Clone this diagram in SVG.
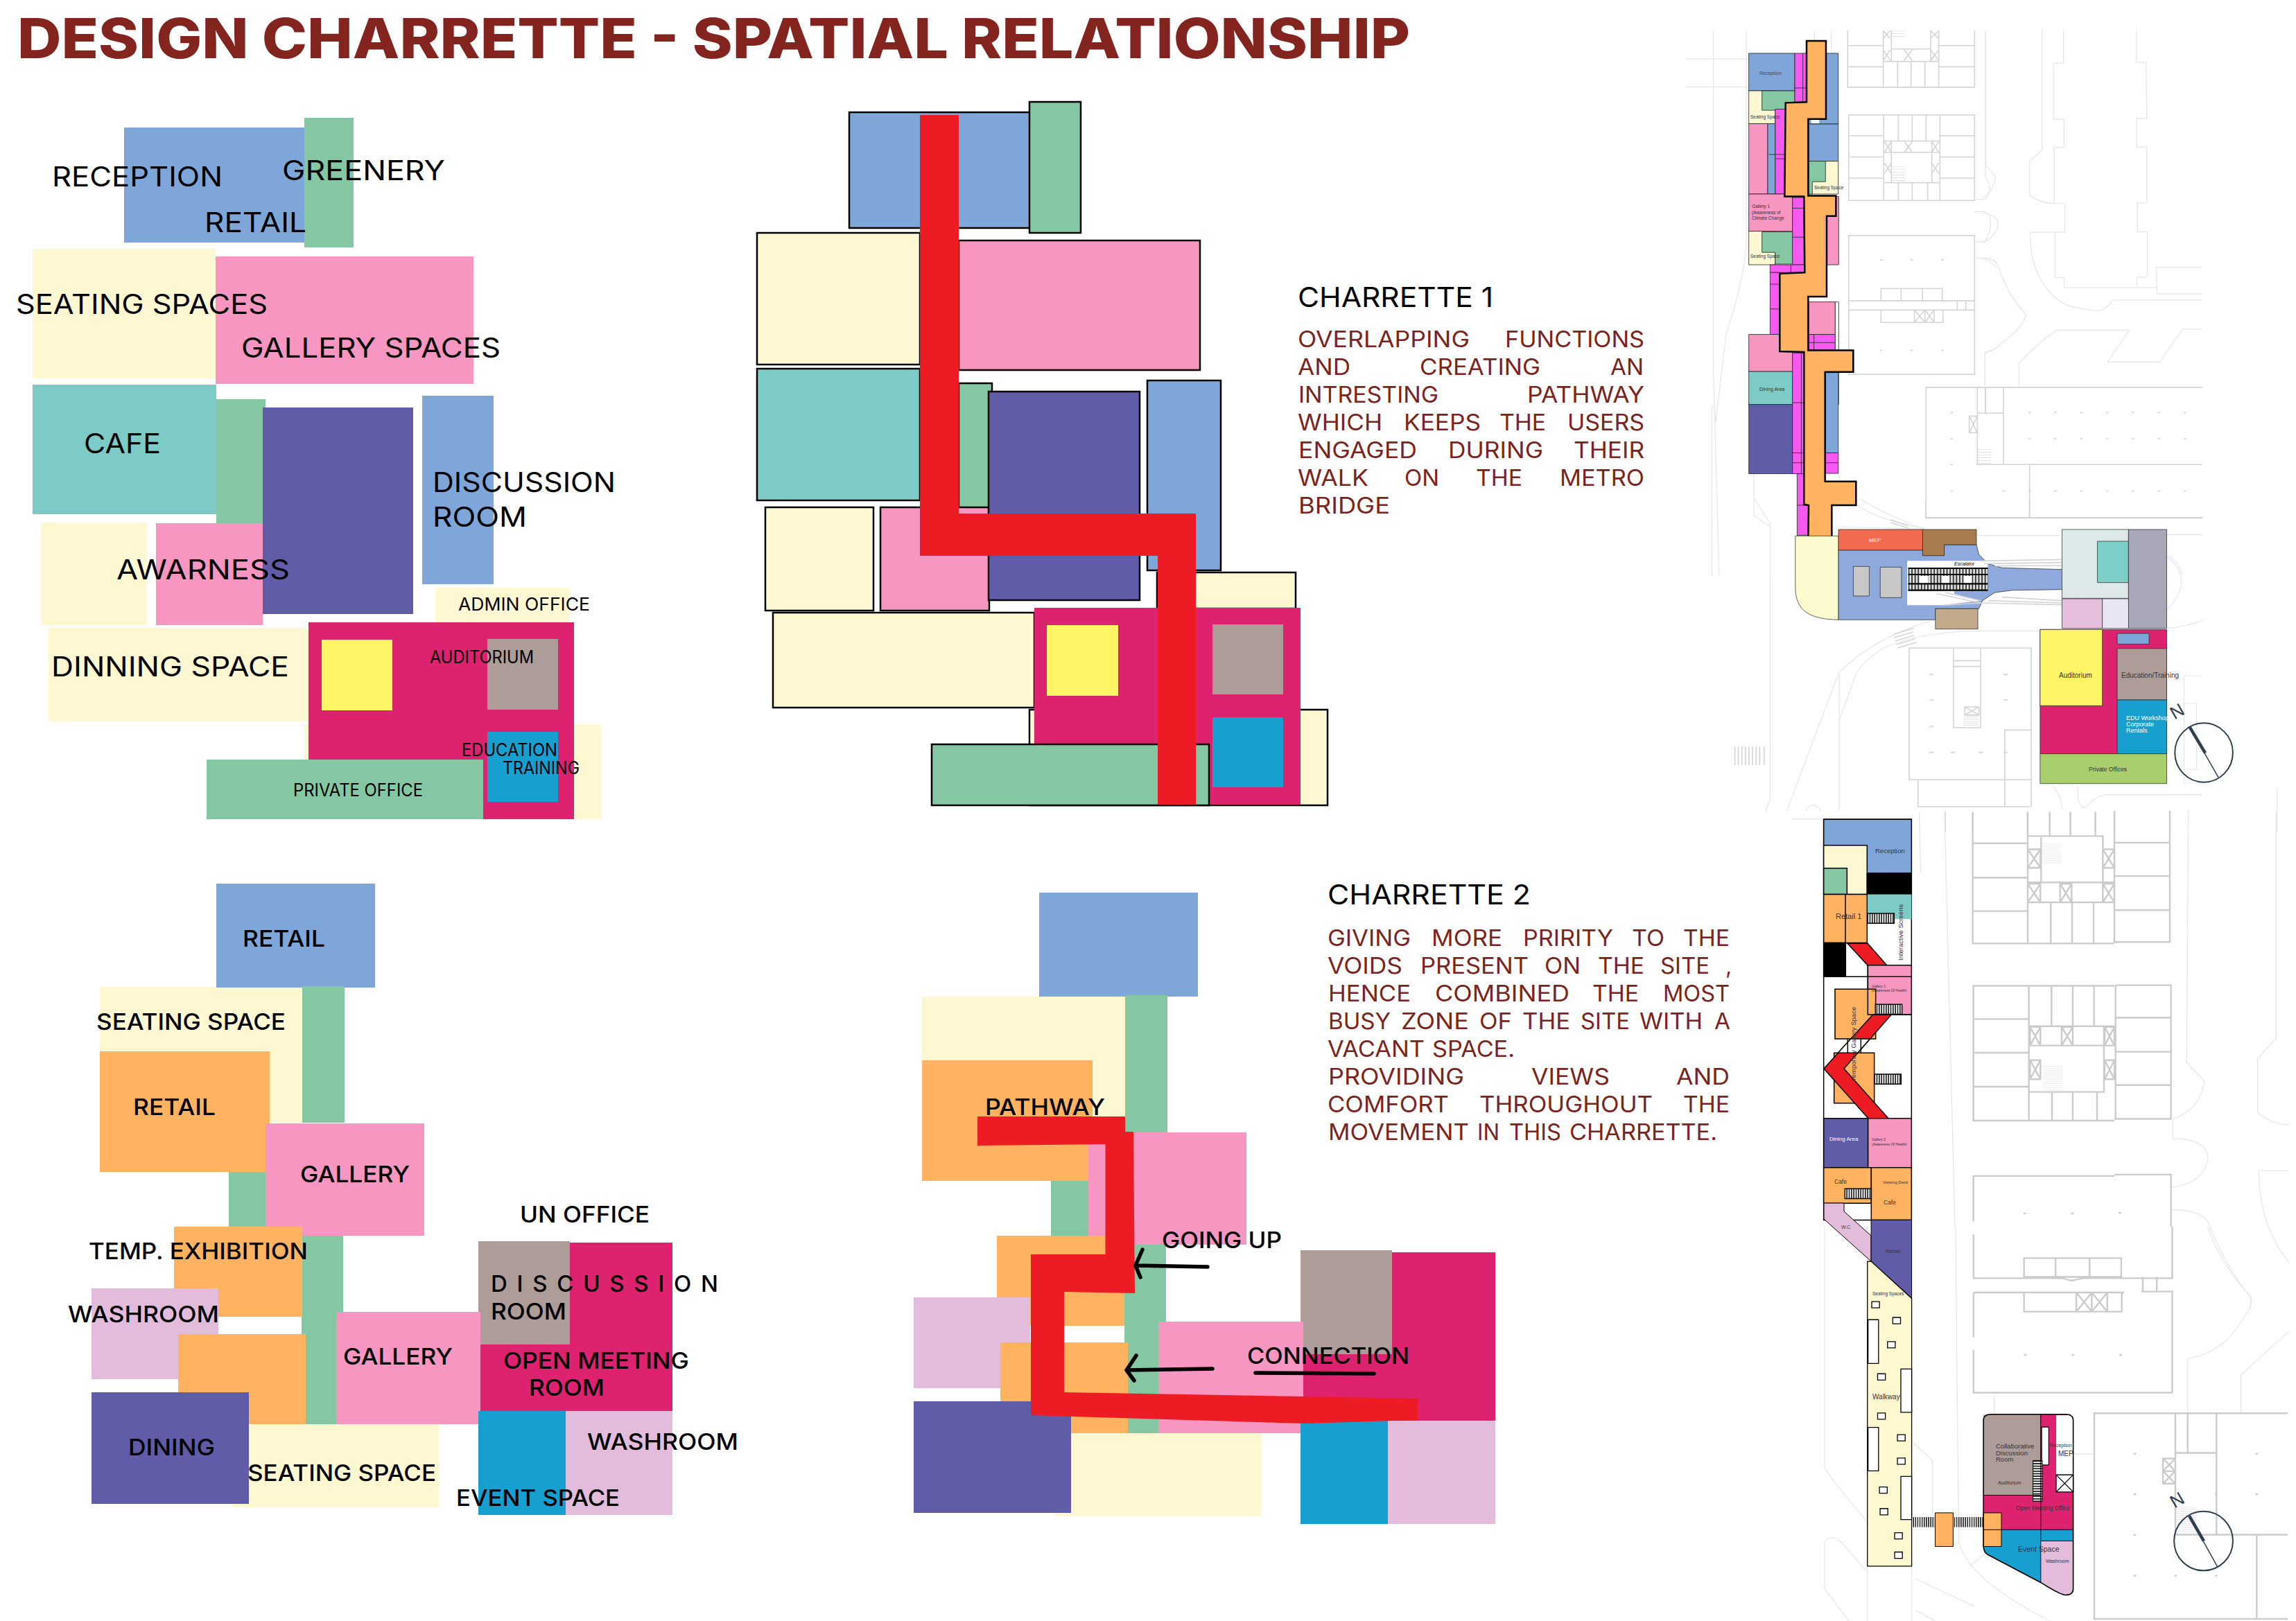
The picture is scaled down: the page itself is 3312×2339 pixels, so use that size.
<svg xmlns="http://www.w3.org/2000/svg" width="3312" height="2339" viewBox="0 0 3312 2339">
<style>
text{font-family:Inter,"Liberation Sans",sans-serif;fill:#000}
.title{font-size:80px;font-weight:800;fill:#84241f}
.l{font-size:39px}
.m{font-size:33px;font-weight:500}
.s{font-size:25px}
.h{font-size:40px}
.b{font-size:32px;fill:#7a2420}
.t{font-family:"Liberation Sans",Arial,sans-serif;font-size:9px;fill:#333}
.tw{font-family:"Liberation Sans",Arial,sans-serif;font-size:7px;fill:#fff}
.bl{fill:#7fa6d8}.gr{fill:#85c7a2}.cr{fill:#fef8d2}.pk{fill:#f796c0}.te{fill:#7ccbc6}.pu{fill:#605ca8}.mg{fill:#dd2270}.ye{fill:#fff566}.ta{fill:#ae9c98}.cy{fill:#179fd0}.or{fill:#ffb25f}.ma{fill:#e4bcdb}.rd{fill:#ed1c24}.vi{fill:#f659f0}.wh{fill:#fff}.bk{fill:#000}
.o rect{stroke:#000;stroke-width:2.5}
.plan *{vector-effect:non-scaling-stroke}
.site{fill:none;stroke:#e6e6e6;stroke-width:1.2}
.bld{fill:none;stroke:#d4d4d4;stroke-width:1.6}
#plan-2-upper .bld,#plan-2-lower .bld,#plan-2-east .bld{stroke:#cbcbcb;stroke-width:2.4}
.k{stroke:#000;stroke-width:1.5}
.arrow{fill:none;stroke:#000;stroke-width:5.5;stroke-linecap:round;stroke-linejoin:round}
</style>
<defs>
<pattern id="hz3" width="10" height="10" patternUnits="userSpaceOnUse"><rect width="10" height="10" fill="#fff"/><rect width="5" height="10" fill="#222"/></pattern>
<pattern id="hz4" width="9" height="9" patternUnits="userSpaceOnUse"><rect width="9" height="9" fill="#ddd"/><rect width="3.5" height="9" fill="#333"/></pattern>
<pattern id="hz6" width="7" height="7" patternUnits="userSpaceOnUse"><rect width="7" height="7" fill="#fff"/><rect width="3.5" height="7" fill="#222"/></pattern>
<pattern id="hh6" width="8" height="10" patternUnits="userSpaceOnUse"><rect width="8" height="10" fill="#fff"/><rect width="8" height="5" fill="#222"/></pattern>
<pattern id="gl" width="8" height="8" patternUnits="userSpaceOnUse"><path d="M0,4H8" stroke="#d4d4d4" stroke-width="1.5"/></pattern>
</defs>
<rect width="3312" height="2339" fill="#fff"/>
<text id="title" class="title" x="25" y="84" textLength="2009" lengthAdjust="spacingAndGlyphs">DESIGN CHARRETTE - SPATIAL RELATIONSHIP</text>

<g id="relationship-1">
<rect class="bl" x="179" y="184" width="262" height="166"/>
<rect class="gr" x="439" y="170" width="71" height="187"/>
<rect class="cr" x="47" y="359" width="264" height="187"/>
<rect class="pk" x="311" y="370" width="372" height="184"/>
<rect class="te" x="47" y="555" width="265" height="187"/>
<rect class="gr" x="312" y="576" width="71" height="179"/>
<rect class="cr" x="59" y="754" width="153" height="148"/>
<rect class="pk" x="225" y="755" width="154" height="147"/>
<rect class="pu" x="379" y="588" width="217" height="298"/>
<rect class="bl" x="609" y="571" width="103" height="272"/>
<rect class="cr" x="628" y="848" width="193" height="51"/>
<rect class="cr" x="70" y="906" width="375" height="135"/>
<rect class="cr" x="439" y="1045" width="428" height="137"/>
<rect class="mg" x="445" y="898" width="383" height="284"/>
<rect class="ye" x="464" y="923" width="102" height="102"/>
<rect class="ta" x="703" y="922" width="102" height="102"/>
<rect class="gr" x="298" y="1096" width="399" height="86"/>
<rect class="cy" x="703" y="1056" width="102" height="101"/>
<text class="l" x="75" y="269" textLength="246" lengthAdjust="spacingAndGlyphs">RECEPTION</text>
<text class="l" x="407" y="260" textLength="235" lengthAdjust="spacingAndGlyphs">GREENERY</text>
<text class="l" x="295" y="335" textLength="147" lengthAdjust="spacingAndGlyphs">RETAIL</text>
<text class="l" x="23" y="453" textLength="363" lengthAdjust="spacingAndGlyphs">SEATING SPACES</text>
<text class="l" x="348" y="516" textLength="374" lengthAdjust="spacingAndGlyphs">GALLERY SPACES</text>
<text class="l" x="121" y="654" textLength="111" lengthAdjust="spacingAndGlyphs">CAFE</text>
<text class="l" x="624" y="710" textLength="264" lengthAdjust="spacingAndGlyphs">DISCUSSION</text>
<text class="l" x="624" y="760" textLength="136" lengthAdjust="spacingAndGlyphs">ROOM</text>
<text class="l" x="168" y="836" textLength="250" lengthAdjust="spacingAndGlyphs">AWARNESS</text>
<text class="s" x="661" y="881" textLength="190" lengthAdjust="spacingAndGlyphs">ADMIN OFFICE</text>
<text class="l" x="74" y="976" textLength="343" lengthAdjust="spacingAndGlyphs">DINNING SPACE</text>
<text class="s" x="620" y="957" textLength="150" lengthAdjust="spacingAndGlyphs">AUDITORIUM</text>
<text class="s" x="666" y="1091" textLength="138" lengthAdjust="spacingAndGlyphs">EDUCATION</text>
<text class="s" x="725" y="1117" textLength="111" lengthAdjust="spacingAndGlyphs">TRAINING</text>
<text class="s" x="423" y="1149" textLength="187" lengthAdjust="spacingAndGlyphs">PRIVATE OFFICE</text>
</g>

<g id="charrette-1" class="o">
<rect class="bl" x="1225" y="162" width="263" height="167"/>
<rect class="gr" x="1485" y="147" width="74" height="189"/>
<rect class="cr" x="1092" y="336" width="235" height="190"/>
<rect class="pk" x="1383" y="347" width="348" height="187"/>
<rect class="te" x="1092" y="532" width="235" height="190"/>
<rect class="gr" x="1383" y="553" width="48" height="180"/>
<rect class="cr" x="1104" y="732" width="156" height="149"/>
<rect class="pk" x="1270" y="732" width="157" height="149"/>
<rect class="pu" x="1426" y="565" width="218" height="301"/>
<rect class="bl" x="1655" y="549" width="106" height="274"/>
<rect class="cr" x="1669" y="826" width="200" height="52"/>
<rect class="cr" x="1115" y="884" width="377" height="137"/>
<rect class="cr" x="1485" y="1024" width="430" height="138"/>
<rect class="mg" x="1492" y="877" width="384" height="284" style="stroke:none"/>
<rect class="ye" x="1510" y="902" width="103" height="102" style="stroke:none"/>
<rect class="ta" x="1749" y="901" width="102" height="101" style="stroke:none"/>
<rect class="gr" x="1344" y="1074" width="400" height="88"/>
<rect class="cy" x="1749" y="1035" width="102" height="101" style="stroke:none"/>
<polygon class="rd" points="1327,166 1383,166 1383,741 1725,741 1725,1161 1670,1161 1670,802 1327,802"/>
</g>
<g id="charrette-1-text">
<text class="h" x="1872" y="443" textLength="282" lengthAdjust="spacingAndGlyphs">CHARRETTE 1</text>
<text class="b" y="501"><tspan x="1872" textLength="248" lengthAdjust="spacingAndGlyphs">OVERLAPPING</tspan> <tspan x="2171" textLength="201" lengthAdjust="spacingAndGlyphs">FUNCTIONS</tspan></text>
<text class="b" y="541"><tspan x="1872" textLength="76" lengthAdjust="spacingAndGlyphs">AND</tspan> <tspan x="2048" textLength="174" lengthAdjust="spacingAndGlyphs">CREATING</tspan> <tspan x="2323" textLength="48" lengthAdjust="spacingAndGlyphs">AN</tspan></text>
<text class="b" y="581"><tspan x="1873" textLength="202" lengthAdjust="spacingAndGlyphs">INTRESTING</tspan> <tspan x="2203" textLength="169" lengthAdjust="spacingAndGlyphs">PATHWAY</tspan></text>
<text class="b" y="621"><tspan x="1872" textLength="122" lengthAdjust="spacingAndGlyphs">WHICH</tspan> <tspan x="2025" textLength="111" lengthAdjust="spacingAndGlyphs">KEEPS</tspan> <tspan x="2163" textLength="67" lengthAdjust="spacingAndGlyphs">THE</tspan> <tspan x="2261" textLength="111" lengthAdjust="spacingAndGlyphs">USERS</tspan></text>
<text class="b" y="661"><tspan x="1873" textLength="171" lengthAdjust="spacingAndGlyphs">ENGAGED</tspan> <tspan x="2089" textLength="137" lengthAdjust="spacingAndGlyphs">DURING</tspan> <tspan x="2270" textLength="102" lengthAdjust="spacingAndGlyphs">THEIR</tspan></text>
<text class="b" y="701"><tspan x="1872" textLength="102" lengthAdjust="spacingAndGlyphs">WALK</tspan> <tspan x="2026" textLength="50" lengthAdjust="spacingAndGlyphs">ON</tspan> <tspan x="2129" textLength="67" lengthAdjust="spacingAndGlyphs">THE</tspan> <tspan x="2250" textLength="122" lengthAdjust="spacingAndGlyphs">METRO</tspan></text>
<text class="b" x="1873" y="741" textLength="132" lengthAdjust="spacingAndGlyphs">BRIDGE</text>
</g>

<g id="relationship-2">
<rect class="cr" x="144" y="1424" width="292" height="196"/>
<rect class="bl" x="312" y="1275" width="229" height="150"/>
<rect class="gr" x="436" y="1423" width="61" height="197"/>
<rect class="or" x="144" y="1517" width="245" height="174"/>
<rect class="gr" x="330" y="1691" width="53" height="79"/>
<rect class="gr" x="435" y="1783" width="60" height="272"/>
<rect class="pk" x="383" y="1621" width="229" height="162"/>
<rect class="or" x="251" y="1770" width="185" height="130"/>
<rect class="ma" x="132" y="1859" width="183" height="131"/>
<rect class="or" x="257" y="1925" width="184" height="130"/>
<rect class="mg" x="693" y="1793" width="277" height="243"/>
<rect class="ta" x="690" y="1791" width="132" height="149"/>
<rect class="pk" x="485" y="1893" width="208" height="162"/>
<rect class="cr" x="335" y="2055" width="298" height="120"/>
<rect class="pu" x="132" y="2009" width="227" height="161"/>
<rect class="cy" x="690" y="2036" width="126" height="150"/>
<rect class="ma" x="816" y="2036" width="154" height="150"/>
<text class="m" x="350" y="1366" textLength="119" lengthAdjust="spacingAndGlyphs">RETAIL</text>
<text class="m" x="139" y="1486" textLength="273" lengthAdjust="spacingAndGlyphs">SEATING SPACE</text>
<text class="m" x="192" y="1609" textLength="119" lengthAdjust="spacingAndGlyphs">RETAIL</text>
<text class="m" x="433" y="1706" textLength="158" lengthAdjust="spacingAndGlyphs">GALLERY</text>
<text class="m" x="750" y="1764" textLength="187" lengthAdjust="spacingAndGlyphs">UN OFFICE</text>
<text class="m" x="128" y="1817" textLength="316" lengthAdjust="spacingAndGlyphs">TEMP. EXHIBITION</text>
<text class="m" x="708" y="1864" textLength="328" lengthAdjust="spacing">DISCUSSION</text>
<text class="m" x="708" y="1904" textLength="109" lengthAdjust="spacingAndGlyphs">ROOM</text>
<text class="m" x="98" y="1908" textLength="218" lengthAdjust="spacingAndGlyphs">WASHROOM</text>
<text class="m" x="495" y="1969" textLength="158" lengthAdjust="spacingAndGlyphs">GALLERY</text>
<text class="m" x="726" y="1975" textLength="268" lengthAdjust="spacingAndGlyphs">OPEN MEETING</text>
<text class="m" x="763" y="2014" textLength="109" lengthAdjust="spacingAndGlyphs">ROOM</text>
<text class="m" x="847" y="2092" textLength="218" lengthAdjust="spacingAndGlyphs">WASHROOM</text>
<text class="m" x="185" y="2100" textLength="125" lengthAdjust="spacingAndGlyphs">DINING</text>
<text class="m" x="357" y="2137" textLength="272" lengthAdjust="spacingAndGlyphs">SEATING SPACE</text>
<text class="m" x="658" y="2173" textLength="236" lengthAdjust="spacingAndGlyphs">EVENT SPACE</text>
</g>

<g id="charrette-2">
<rect class="cr" x="1330" y="1438" width="293" height="196"/>
<rect class="bl" x="1499" y="1288" width="229" height="150"/>
<rect class="gr" x="1623" y="1436" width="61" height="198"/>
<rect class="or" x="1330" y="1530" width="246" height="174"/>
<rect class="gr" x="1516" y="1704" width="54" height="79"/>
<rect class="gr" x="1622" y="1796" width="60" height="272"/>
<rect class="pk" x="1570" y="1634" width="228" height="162"/>
<rect class="or" x="1438" y="1783" width="184" height="130"/>
<rect class="ma" x="1318" y="1872" width="168" height="131"/>
<rect class="or" x="1443" y="1937" width="184" height="131"/>
<rect class="mg" x="1880" y="1807" width="277" height="243"/>
<rect class="ta" x="1876" y="1804" width="132" height="150"/>
<rect class="pk" x="1671" y="1907" width="209" height="161"/>
<rect class="cr" x="1522" y="2068" width="298" height="120"/>
<rect class="pu" x="1318" y="2022" width="227" height="161"/>
<rect class="cy" x="1876" y="2050" width="126" height="149"/>
<rect class="ma" x="2002" y="2050" width="155" height="149"/>
<polygon class="rd" points="1410,1611 1623,1611 1623,1633 1635,1633 1637,1866 1535,1864 1535,2009 2045,2018 2045,2049 1880,2054 1487,2042 1487,1810 1594.5,1810 1594.5,1651 1410,1653"/>
<g id="charrette-2-connectors">
<path class="arrow" d="M1742,1828 L1638,1826 M1648,1803 L1638,1826 L1645,1843"/>
<path class="arrow" d="M1749,1975 L1625,1977 M1639,1956 L1625,1977 L1636,1992"/>
<path class="arrow" d="M1811,1981 L1982,1982"/>
</g>
<text class="m" x="1421" y="1609" textLength="173" lengthAdjust="spacingAndGlyphs">PATHWAY</text>
<text class="m" x="1676" y="1801" textLength="173" lengthAdjust="spacingAndGlyphs">GOING UP</text>
<text class="m" x="1799" y="1968" textLength="234" lengthAdjust="spacingAndGlyphs">CONNECTION</text>
</g>
<g id="charrette-2-text">
<text class="h" x="1915" y="1305" textLength="293" lengthAdjust="spacingAndGlyphs">CHARRETTE 2</text>
<text class="b" y="1365"><tspan x="1915" textLength="120" lengthAdjust="spacingAndGlyphs">GIVING</tspan> <tspan x="2065" textLength="102" lengthAdjust="spacingAndGlyphs">MORE</tspan> <tspan x="2197" textLength="130" lengthAdjust="spacingAndGlyphs">PRIRITY</tspan> <tspan x="2354" textLength="47" lengthAdjust="spacingAndGlyphs">TO</tspan> <tspan x="2428" textLength="67" lengthAdjust="spacingAndGlyphs">THE</tspan></text>
<text class="b" y="1405"><tspan x="1915" textLength="108" lengthAdjust="spacingAndGlyphs">VOIDS</tspan> <tspan x="2049" textLength="156" lengthAdjust="spacingAndGlyphs">PRESENT</tspan> <tspan x="2228" textLength="52" lengthAdjust="spacingAndGlyphs">ON</tspan> <tspan x="2305" textLength="67" lengthAdjust="spacingAndGlyphs">THE</tspan> <tspan x="2395" textLength="71" lengthAdjust="spacingAndGlyphs">SITE</tspan> <tspan x="2489">,</tspan></text>
<text class="b" y="1445"><tspan x="1916" textLength="119" lengthAdjust="spacingAndGlyphs">HENCE</tspan> <tspan x="2070" textLength="194" lengthAdjust="spacingAndGlyphs">COMBINED</tspan> <tspan x="2297" textLength="67" lengthAdjust="spacingAndGlyphs">THE</tspan> <tspan x="2399" textLength="96" lengthAdjust="spacingAndGlyphs">MOST</tspan></text>
<text class="b" y="1485"><tspan x="1916" textLength="90" lengthAdjust="spacingAndGlyphs">BUSY</tspan> <tspan x="2021" textLength="98" lengthAdjust="spacingAndGlyphs">ZONE</tspan> <tspan x="2134" textLength="47" lengthAdjust="spacingAndGlyphs">OF</tspan> <tspan x="2196" textLength="69" lengthAdjust="spacingAndGlyphs">THE</tspan> <tspan x="2280" textLength="71" lengthAdjust="spacingAndGlyphs">SITE</tspan> <tspan x="2365" textLength="91" lengthAdjust="spacingAndGlyphs">WITH</tspan> <tspan x="2473" textLength="23" lengthAdjust="spacingAndGlyphs">A</tspan></text>
<text class="b" y="1525"><tspan x="1915" textLength="140" lengthAdjust="spacingAndGlyphs">VACANT</tspan> <tspan x="2066" textLength="119" lengthAdjust="spacingAndGlyphs">SPACE.</tspan></text>
<text class="b" y="1565"><tspan x="1916" textLength="196" lengthAdjust="spacingAndGlyphs">PROVIDING</tspan> <tspan x="2209" textLength="113" lengthAdjust="spacingAndGlyphs">VIEWS</tspan> <tspan x="2418" textLength="77" lengthAdjust="spacingAndGlyphs">AND</tspan></text>
<text class="b" y="1605"><tspan x="1915" textLength="175" lengthAdjust="spacingAndGlyphs">COMFORT</tspan> <tspan x="2134" textLength="250" lengthAdjust="spacingAndGlyphs">THROUGHOUT</tspan> <tspan x="2428" textLength="67" lengthAdjust="spacingAndGlyphs">THE</tspan></text>
<text class="b" y="1645"><tspan x="1916" textLength="203" lengthAdjust="spacingAndGlyphs">MOVEMENT</tspan> <tspan x="2131" textLength="32" lengthAdjust="spacingAndGlyphs">IN</tspan> <tspan x="2177" textLength="75" lengthAdjust="spacingAndGlyphs">THIS</tspan> <tspan x="2264" textLength="213" lengthAdjust="spacingAndGlyphs">CHARRETTE.</tspan></text>
</g>

<!-- plan 1, east site context -->
<g id="plan-1-east" class="plan" transform="translate(2860 30) scale(.33333 .5102)">
<path class="site" d="M13,28V408L55,440Q50,480 0,500M0,543Q65,550 67,575Q60,610 0,627M0,670Q50,672 65,690Q110,780 187,830Q185,860 85,910Q50,935 10,938V1037M257,25V365L203,398V492Q240,515 312,517M350,25V120H307V278H352V358H310V517H356V598H205Q205,740 350,800Q430,820 515,820L568,790H950M313,598V726H352V755H755M665,25V118H707L710,276H667V357H710V515H670V597H713V725H667V752M950,697H752L755,772H950M950,872H865L765,965H540L635,875H330Q290,880 157,968V1037M800,1453H950M800,1512Q850,1530 865,1568"/>
<path class="bld" d="M60,1037H950M90,1037V1255M13,1037V1110M60,1110H90M60,1255H950M60,1405H950M203,1255V1405M197,1108h12M309,1108h12M421,1108h12M533,1108h12M645,1108h12M757,1108h12M869,1108h12M197,1182h12M309,1182h12M421,1182h12M533,1182h12M645,1182h12M757,1182h12M869,1182h12M84,1330h12M197,1330h12M309,1330h12M421,1330h12M533,1330h12M645,1330h12M757,1330h12M869,1330h12"/>
</g>

<!-- plan 1, upper part -->
<g id="plan-1-upper" class="plan" transform="translate(2430 30) scale(.33333 .5102)">
<path class="site" d="M125,28V1000L150,1568M267,28V640Q250,750 180,885L135,1135L130,1090H118V1568M5,108H278M5,187H278M1302,28V440Q1340,480 1300,505H1260M1255,540H1300Q1350,560 1300,625H1255M1255,670Q1320,670 1350,700M1300,940L1350,925M300,1281V1400L370,1430V1568M562,28V57M635,28V92M665,1280Q680,1340 770,1380Q880,1420 1040,1435M1265,1455H1350"/>
<path class="bld" d="M706,28V188H1255V28M706,70H860M1100,70H1255M706,130H860M1100,130H1255M860,28V188M895,28V115M1100,28V188M1065,28V115M895,80H1065M860,115H1100M922,115V188M980,115V188M1040,115V188M860,28L890,50M890,28L860,50M1065,28L1100,50M1100,28L1065,50M860,82L890,112M890,82L860,112M950,82L985,112M985,82L950,112M1065,82L1100,112M1100,82L1065,112"/>
<rect x="893" y="28" width="60" height="17" fill="url(#gl)"/>
<path class="bld" d="M710,266H1255V508H710ZM862,266V508M1105,266V508M710,325H862M710,385H862M710,445H862M1105,325H1255M1105,385H1255M1105,445H1255M862,340H1105M895,340V458M1070,340V458M862,458H1105M862,372H1105M925,266V340M985,266V340M1045,266V340M925,458V508M985,458V508M1052,458V508M865,342L895,372M895,342L865,372M952,342L985,372M985,342L952,372M1070,342L1100,372M1100,342L1070,372M865,402L895,432M895,402L865,432M1070,402L1100,432M1100,402L1070,432"/>
<rect x="895" y="408" width="60" height="47" fill="url(#gl)"/>
<path class="bld" d="M710,607H1255V1000H710ZM710,792H1255M710,818H1255M850,757H1115V792H850ZM850,818H1118V853H850ZM937,757V792M1030,757V792M995,818V853M1040,818V853M1080,818V853M995,818L1040,853M1040,818L995,853M1040,818L1080,853M1080,818L1040,853M1180,792V818M1217,792V818M845,676h12M977,676h12M1110,676h12M845,932h12M977,932h12M1110,932h12"/>
<path class="bld" d="M1350,1037H1045V1405H1350M1267,1037V1255H1350M1302,1037V1110M1267,1110H1350M1232,1118H1267V1165H1232ZM1232,1118L1267,1165M1267,1118L1232,1165M1150,1108h12M1150,1182h12M1150,1255h12M1150,1330h12"/>
<rect x="1267" y="1205" width="60" height="50" fill="url(#gl)"/>
<g stroke="#222" stroke-width=".8">
<rect class="bl" x="278" y="92" width="199" height="106"/>
<rect class="cr" x="278" y="198" width="114" height="93"/>
<rect class="gr" x="335" y="198" width="142" height="55"/>
<rect class="vi" x="477" y="92" width="50" height="138"/>
<path d="M512,92V230M477,190H527" fill="none"/>
<rect class="vi" x="392" y="250" width="45" height="240"/>
<path d="M392,378H437M392,390H437" fill="none"/>
<rect class="bl" x="537" y="92" width="128" height="200"/>
<rect class="wh" x="548" y="280" width="35" height="10" stroke="none"/>
<rect class="bl" x="537" y="292" width="128" height="105"/>
<rect class="cr" x="537" y="397" width="128" height="93"/>
<polygon class="gr" points="537,397 610,397 610,455 553,455 553,490 537,490"/>
<rect class="pk" x="278" y="291" width="82" height="199"/>
<rect class="bl" x="360" y="291" width="32" height="199"/>
<path d="M365,378H392" fill="none"/>
<rect class="pk" x="278" y="490" width="189" height="105"/>
<rect class="cr" x="278" y="595" width="114" height="95"/>
<polygon class="gr" points="335,597 467,597 467,688 392,688 392,655 335,655"/>
<rect class="vi" x="467" y="500" width="50" height="190"/>
<path d="M467,530H517M467,612H517" fill="none"/>
<rect class="pk" x="615" y="497" width="52" height="193"/>
<rect class="vi" x="370" y="690" width="150" height="22"/>
<rect class="vi" x="370" y="712" width="42" height="175"/>
<path d="M370,745H412M370,815H412M460,690V712" fill="none"/>
<rect class="pk" x="537" y="795" width="115" height="92"/>
<rect class="vi" x="537" y="887" width="115" height="45"/>
<path d="M560,887V932M537,910H652" fill="none"/>
<path d="M652,795H667V1085H652Z" fill="#fff"/>
<rect class="pk" x="278" y="887" width="189" height="105"/>
<rect class="te" x="278" y="992" width="189" height="93"/>
<rect class="pu" x="278" y="1085" width="189" height="196"/>
<rect class="vi" x="467" y="940" width="50" height="341"/>
<path d="M467,1080H517M467,1222H517M467,1250H517M505,940V1281" fill="none"/>
<rect class="bl" x="610" y="995" width="55" height="227"/>
<rect class="vi" x="610" y="1222" width="55" height="58"/>
<path d="M610,1250H665" fill="none"/>
<rect class="vi" x="487" y="1281" width="50" height="174"/>
<path d="M487,1370H537" fill="none"/>
</g>
<polygon points="528,57 612,57 612,278 535,278 535,495 655,495 655,552 615,552 615,780 535,780 535,932 730,932 730,993 608,993 608,1303 742,1303 742,1370 637,1370 637,1564 533,1564 537,1370 517,1368 517,937 412,935 412,715 520,712 517,497 433,497 437,232 528,230" class="or" stroke="#000" stroke-width="2.5"/>
</g>

<!-- plan 1, lower part -->
<g id="plan-1-lower" class="plan" transform="translate(2500 720) scale(.5102 .33333)">
<path class="site" d="M60,0L105,105V1300L92,1350M360,0Q420,60 540,130M298,120L540,130M690,158H925M1226,155H1325M1226,250Q1310,350 1226,480M1226,560Q1290,550 1328,525M555,530Q400,600 300,750V1350M690,572H865M690,572Q520,575 420,650Q350,720 340,790L300,960M298,755L152,1350M905,1245Q930,1290 930,1345M975,1240V1300Q985,1350 1000,1330Q1030,1280 1060,1280H1325M1538,1250V1440M165,1385H255M205,1350Q225,1300 250,1350M1275,765H1325M1275,765V1230H1325M1270,885H1310V1170H1275"/>
<path class="bld" d="M545,0V82H1328M838,0V82M498,645H843V1215H498ZM623,645V990H700V645M623,700H700M623,725H700M655,900H695V935H655ZM655,900L695,935M695,900L655,935M768,1000H843M768,1000V1332M523,1215V1332H840M843,1215V1332M677,1353V1440M832,1353V1440M895,1353V1440M953,1353V1440M1024,1353V1440M1079,1353V1440M1235,1353V1440M600,1353V1440M555,760h12M765,760h12M555,870h12M765,870h12M555,985h12M555,1097h12M615,1097h12M695,1097h12M765,1097h12"/>
<rect x="650" y="935" width="45" height="50" fill="url(#gl)"/>
<path class="bld" d="M5,1072V1152M15,1072V1152M25,1072V1152M35,1072V1152M45,1072V1152M55,1072V1152M65,1072V1152M75,1072V1152M88,1072V1152M455,585L510,560M455,600L510,575M458,615L512,590M462,630L515,605M465,645L518,620M445,90L495,115M445,102L495,125"/>
<path d="M176,160H298V523C220,520 176,490 176,380Z" fill="#fcfbcf" stroke="#222" stroke-width=".7"/>
<g stroke="#222" stroke-width=".7">
<rect x="298" y="132" width="238" height="90" fill="#f26b4e"/>
<polygon points="298,222 536,222 536,245 597,245 597,198 688,198 695,240 720,280 760,298 930,305 950,315 960,350 950,385 930,392 790,395 740,405 705,440 695,475 572,475 572,523 298,523" fill="#8ea9db"/>
<polygon points="536,132 688,132 688,198 597,198 597,245 536,245" fill="#a97c50"/>
<rect x="572" y="475" width="120" height="88" fill="#c2aa8a"/>
<rect x="340" y="292" width="45" height="128" fill="#c8c8c8"/>
<rect x="416" y="295" width="60" height="132" fill="#c8c8c8"/>
</g>
<polygon points="492,268 720,268 720,300 625,300 625,410 700,440 590,460 492,460" fill="#fff"/>
<rect x="495" y="298" width="226" height="100" fill="url(#hz4)"/>
<rect x="527" y="333" width="25" height="32" fill="#fff"/><rect x="590" y="333" width="22" height="32" fill="#fff"/><rect x="652" y="333" width="23" height="32" fill="#fff"/>
<path d="M495,300H720M495,327H720M495,367H720M495,395H720" stroke="#000" stroke-width="2.2" fill="none"/>
<path class="bld" d="M700,268L930,262M710,280L930,275M740,290L930,288M700,450L930,458M720,440L930,450M760,425L930,440M590,460L700,450M575,410L700,450M600,405L700,440M960,262Q1000,350 960,430M990,262Q1010,350 980,430"/>
<g stroke="#222" stroke-width=".7">
<rect x="930" y="132" width="188" height="298" fill="#dce9e8"/>
<rect x="1030" y="183" width="88" height="179" fill="#7cd0c8"/>
<rect x="1118" y="132" width="108" height="428" fill="#a8a7b8"/>
<rect x="930" y="432" width="114" height="128" fill="#e6bfdc"/>
<rect x="1044" y="432" width="74" height="128" fill="#e8e6f2"/>
<rect x="868" y="565" width="358" height="538" class="mg"/>
<rect x="868" y="565" width="176" height="330" class="ye"/>
<rect x="1086" y="582" width="90" height="46" class="bl"/>
<rect x="1086" y="647" width="140" height="223" class="ta"/>
<rect x="1086" y="870" width="140" height="233" class="cy"/>
<rect x="868" y="1103" width="358" height="129" fill="#a9cf6c"/>
</g>
<ellipse cx="1331" cy="1098" rx="82" ry="128" fill="none" stroke="#2e4050" stroke-width="2"/>
<path d="M1290,985L1372,1205" stroke="#2e4050" stroke-width="1.5"/>
<path d="M1290,985L1335,1100" stroke="#2e4050" stroke-width="4.5"/>
</g>
<text class="t" transform="translate(3145 1034) rotate(-30)" style="font-size:26px;fill:#2e4050" text-anchor="middle">N</text>

<!-- plan 2, east site context -->
<g id="plan-2-east" class="plan" transform="translate(3000 1170) scale(.33333 .45918)">
<path class="site" d="M470,0L463,790L540,850Q520,940 405,968M403,968V1030Q550,1030 555,1090Q540,1170 400,1183M400,1253Q520,1255 555,1290Q620,1420 740,1530V1568M850,0V715L770,778V948Q830,985 905,987M905,1130H775Q775,1300 905,1420"/>
<path class="bld" d="M150,0V415M390,0V412H150M150,100H390M150,205H390M150,312H390M155,548H395V968H150M155,548V968M155,650H395M155,757H395M155,862H395M150,1143H395V1307M168,1263h11"/>
</g>

<!-- plan 2, upper part -->
<g id="plan-2-upper" class="plan" transform="translate(2600 1170) scale(.33333 .38265)">
<path class="site" d="M505,5L512,235M615,5L660,1568"/>
<path class="bld" d="M737,5V500H1350M737,122H975M737,252H975M737,378H975M975,5V500M975,95H1300V345M1070,5V95M1160,5V95M1268,5V95M975,345H1350M1075,345V500M1167,345V500M1260,345V500M1033,100V270M975,270H1350M975,145H1030V215H975ZM975,145L1030,215M1030,145L975,215M975,275H1030V345H975ZM975,275L1030,345M1030,275L975,345M1115,275H1165V345H1115ZM1115,275L1165,345M1165,275L1115,345M1300,145H1350V215H1300ZM1300,145L1350,215M1350,145L1300,215M1300,275H1350V345H1300ZM1300,275L1350,345M1350,275L1300,345"/>
<rect x="1033" y="122" width="87" height="80" fill="url(#gl)"/>
<path class="bld" d="M1350,660H740V1168H1350M980,660V1165M745,785H980M745,912H980M745,1040H980M1078,660V810M1170,660V810M1262,660V810M980,812H1350M980,885H1305V1060H980M1305,812V885M1080,1060V1165M1170,1060V1165M1275,1060V1165M985,815H1030V885H985ZM985,815L1030,885M1030,815L985,885M1122,815H1170V885H1122ZM1122,815L1170,885M1170,815L1122,885M1308,815H1350V885H1308ZM1308,815L1350,885M1350,815L1308,885M985,940H1030V1012H985ZM985,940L1030,1012M1030,940L985,1012M1308,940H1350V1012H1308ZM1308,940L1350,1012M1350,940L1308,1012M740,1548V1377H1350M957,1518h12M1162,1518h12"/>
<rect x="1040" y="958" width="87" height="100" fill="url(#gl)"/>
<g class="k">
<rect x="92" y="32" width="380" height="1511" fill="#fff"/>
<rect class="bl" x="92" y="32" width="380" height="203"/>
<rect class="cr" x="92" y="130" width="188" height="185"/>
<rect class="gr" x="92" y="216" width="101" height="99"/>
<rect class="bk" x="280" y="235" width="192" height="80"/>
<rect class="or" x="92" y="315" width="188" height="183"/>
<path d="M186,315V498" fill="none"/>
<rect class="te" x="282" y="315" width="190" height="93" stroke="none"/>
<rect class="bk" x="92" y="498" width="95" height="127"/>
<polygon class="rd" points="195,500 282,500 365,582 282,582"/>
<rect class="pk" x="283" y="582" width="189" height="186"/>
<path d="M92,625H472" fill="none"/>
<rect x="282" y="387" width="115" height="37" fill="url(#hz3)"/>
<rect class="or" x="141" y="672" width="176" height="188"/>
<rect class="or" x="137" y="913" width="174" height="189"/>
<polygon class="rd" points="305,768 385,768 180,972 372,1160 285,1160 93,972"/>
<polygon points="209,860 292,860 239,913 154,913" fill="#fff"/>
<path d="M196,860V913M253,860V913" fill="none"/>
<path d="M283,625V768H472M283,582V625" fill="none"/>
<rect x="316" y="730" width="115" height="37" fill="url(#hz3)"/>
<rect x="311" y="993" width="116" height="37" fill="url(#hz3)"/>
<rect class="pu" x="92" y="1160" width="192" height="185"/>
<rect class="pk" x="284" y="1160" width="188" height="185"/>
<rect class="or" x="92" y="1345" width="206" height="135"/>
<rect class="or" x="298" y="1345" width="174" height="198"/>
<rect x="184" y="1425" width="114" height="37" fill="url(#hz3)"/>
</g>
</g>
<polygon points="2631,1736 2660,1736 2660,1748 2699,1783 2699,1820 2631,1759" class="ma" stroke="#000" stroke-width="1"/>

<!-- plan 2, lower part -->
<g id="plan-2-lower" class="plan" transform="translate(2600 1770) scale(.44643 .36284)">
<path class="site" d="M72,0V960Q90,1000 210,1175V1568M72,1250Q100,1220 130,1260L210,1375M72,1250V1440L150,1568M353,1350V1568M495,0L505,1250Q530,1400 800,1568M360,860L420,930V1150M365,1400L555,1510M365,1525L430,1568M1310,0Q1350,150 1450,280Q1460,320 1380,440Q1320,510 1245,525V742M1568,420L1417,590V742M875,903H943M620,675V746M540,1350L600,1290"/>
<path class="bld" d="M553,30V205H840L870,215L905,205H1195V0M1100,200V258M1145,200V258M716,125H1030V200H716ZM818,125V200M928,125V200M553,262H1040M1095,258H1195V660H553V490M553,262V440M716,262H1032V338H716ZM885,262V338M935,262V338M985,262V338M885,262L935,338M935,262L885,338M935,262L985,338M985,262L935,338M716,510h8M870,510h8M1024,510h8"/>
<path class="bld" d="M1568,742H943V1560H1568M1205,742V1225M1245,742V900M1205,900H1338M1338,742V1225M1205,1225H1568M1468,1225V1560M1165,922H1205V972H1165ZM1165,922L1205,972M1205,922L1165,972M1165,972H1205V1022H1165ZM1165,972L1205,1022M1205,972L1165,1022M1070,903h8M1070,1064h8M1070,1226h8M1070,1388h8M1202,1388h8M1333,1388h8M1464,903h8M1464,1064h8M1333,1064h8"/>
<rect x="1208" y="1115" width="67" height="105" fill="url(#gl)"/>
<polygon points="222,-27 353,-27 353,285 222,138" class="pu" stroke="#000" stroke-width="1"/>
<polygon points="210,138 222,138 353,285 353,1350 210,1350" fill="#fdf8d0" stroke="#000" stroke-width="1.3"/>
<g stroke="#000" stroke-width="1.3" fill="#fff">
<rect x="212" y="370" width="34" height="174"/><rect x="318" y="566" width="35" height="172"/><rect x="212" y="798" width="34" height="173"/><rect x="318" y="993" width="35" height="172"/>
<rect x="224" y="298" width="25" height="25"/><rect x="292" y="361" width="25" height="25"/><rect x="275" y="457" width="25" height="25"/><rect x="243" y="585" width="25" height="25"/><rect x="243" y="741" width="25" height="25"/><rect x="307" y="827" width="25" height="25"/><rect x="307" y="920" width="25" height="25"/><rect x="249" y="1035" width="25" height="25"/><rect x="251" y="1121" width="25" height="25"/><rect x="298" y="1217" width="25" height="25"/><rect x="298" y="1294" width="25" height="25"/>
</g>
<rect x="355" y="1155" width="75" height="40" fill="url(#hz6)"/>
<rect x="487" y="1155" width="97" height="40" fill="url(#hz6)"/>
<rect x="643" y="1157" width="100" height="38" fill="url(#hz6)"/>
<rect class="or" x="429" y="1138" width="58" height="134" stroke="#000" stroke-width="1"/>
<path d="M585,770Q585,746 610,746H850Q875,746 875,770V1440Q875,1465 850,1465Q835,1465 770,1415L600,1305Q585,1295 585,1270Z" class="mg"/>
<rect class="ta" x="585" y="748" width="185" height="320"/>
<path d="M585,1205H875V1250H770V1415L600,1305Q585,1295 585,1270Z" class="cy"/>
<path d="M770,1250H875V1440Q875,1465 850,1465Q835,1465 770,1415Z" class="ma"/>
<rect class="wh" x="820" y="750" width="55" height="235"/>
<rect class="wh" x="820" y="987" width="55" height="68" stroke="#000" stroke-width="1.2"/>
<path d="M820,987L875,1055M875,987L820,1055" stroke="#000" stroke-width="1.2"/>
<rect class="wh" x="773" y="797" width="23" height="151" stroke="#000" stroke-width="1.2"/>
<rect x="745" y="930" width="30" height="162" fill="url(#hh6)" stroke="#000" stroke-width="1"/>
<rect class="or" x="585" y="1138" width="58" height="134" stroke="#000" stroke-width="1"/>
<path d="M585,1068H770M770,748V1415M585,1205H875M770,1250H875" stroke="#000" stroke-width="1.1" fill="none"/>
<path d="M585,770Q585,746 610,746H850Q875,746 875,770V1440Q875,1465 850,1465Q835,1465 770,1415L600,1305Q585,1295 585,1270Z" fill="none" stroke="#000" stroke-width="1.6"/>
<ellipse cx="1296" cy="1250" rx="95" ry="118" fill="none" stroke="#2e4050" stroke-width="2"/>
<path d="M1250,1150L1340,1350" stroke="#2e4050" stroke-width="1.5"/>
<path d="M1250,1150L1297,1250" stroke="#2e4050" stroke-width="4.5"/>
</g>
<text class="t" transform="translate(3145 2172) rotate(-30)" style="font-size:26px;fill:#2e4050" text-anchor="middle">N</text>

<g id="plan-labels">
<text class="t" x="2538" y="108" style="font-size:7px;fill:#446">Reception</text>
<text class="t" x="2525" y="171" style="font-size:6.5px">Seating Space</text>
<text class="t" x="2617" y="273" style="font-size:6.5px">Seating Space</text>
<text class="t" x="2525" y="372" style="font-size:6.5px">Seating Space</text>
<text class="t" x="2527" y="300" style="font-size:6.5px">Gallery 1</text>
<text class="t" x="2527" y="309" style="font-size:6.5px">(Awareness of</text>
<text class="t" x="2527" y="317" style="font-size:6.5px">Climate Change</text>
<text class="t" x="2538" y="564" style="font-size:7px">Dining Area</text>
<text class="t" x="2970" y="978" style="font-size:10px">Auditorium</text>
<text class="t" x="3060" y="978" style="font-size:10px">Education/Training</text>
<text class="t" x="3013" y="1113" style="font-size:8.5px">Private Offices</text>
<text class="tw" x="3067" y="1039" style="font-size:9px">EDU Workshop</text>
<text class="tw" x="3067" y="1048" style="font-size:9px">Corporate</text>
<text class="tw" x="3067" y="1057" style="font-size:9px">Rentals</text>
<text class="tw" x="2696" y="782" style="font-size:8px">MEP</text>
<text class="t" x="2819" y="816" style="font-size:7px;font-style:italic;fill:#000">Escalator</text>
<text class="t" x="2705" y="1231" style="font-size:9.5px">Reception</text>
<text class="t" x="2648" y="1326" style="font-size:11px">Retail 1</text>
<text class="t" transform="translate(2745 1386) rotate(-90)" style="font-size:9.5px">Interactive Screens</text>
<text class="t" x="2700" y="1425" style="font-size:5px">Gallery 1</text>
<text class="t" x="2700" y="1431" style="font-size:5px">(Awareness Of Health)</text>
<text class="t" transform="translate(2677 1560) rotate(-90)" style="font-size:9.5px">Temporary Gallery Space</text>
<text class="tw" x="2639" y="1646" style="font-size:8px">Dining Area</text>
<text class="t" x="2700" y="1646" style="font-size:5px">Gallery 2</text>
<text class="t" x="2700" y="1653" style="font-size:5px">(Awareness Of Health)</text>
<text class="t" x="2646" y="1708" style="font-size:8.5px">Cafe</text>
<text class="t" x="2716" y="1708" style="font-size:6px">Viewing Deck</text>
<text class="t" x="2717" y="1738" style="font-size:8.5px">Cafe</text>
<text class="t" x="2656" y="1773" style="font-size:7px">W.C</text>
<text class="t" x="2720" y="1808" style="font-size:6.5px">Kitchen</text>
<text class="t" x="2701" y="1869" style="font-size:6.5px">Seating Spaces</text>
<text class="t" x="2701" y="2019" style="font-size:10px">Walkway</text>
<text class="t" x="2879" y="2090" style="font-size:9.5px">Collaborative</text>
<text class="t" x="2879" y="2099.5" style="font-size:9.5px">Discussion</text>
<text class="t" x="2879" y="2108.5" style="font-size:9.5px">Room</text>
<text class="t" x="2882" y="2142" style="font-size:7px">Auditorium</text>
<text class="t" x="2957" y="2087.5" style="font-size:7px">Reception</text>
<text class="t" x="2969" y="2101" style="font-size:10px">MEP</text>
<text class="t" x="2908" y="2179" style="font-size:8.5px">Open Meeting Office</text>
<text class="t" x="2911" y="2239" style="font-size:10.5px">Event Space</text>
<text class="t" x="2951" y="2255" style="font-size:7px">Washroom</text>
</g>
</svg>
